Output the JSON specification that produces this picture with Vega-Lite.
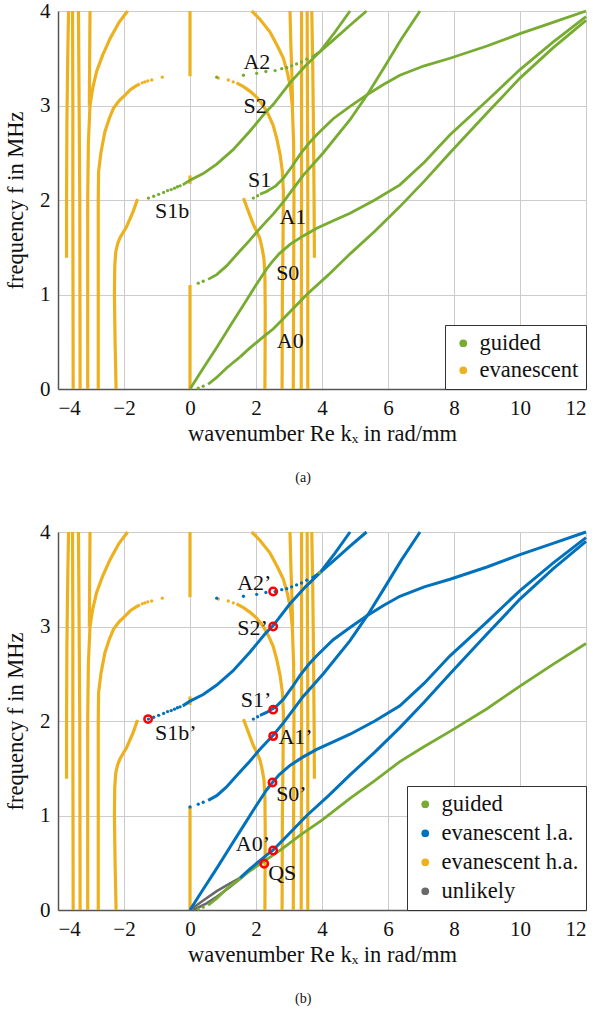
{
  "$schema": "https://vega.github.io/schema/vega-lite/v6.json",
  "background": "white",
  "padding": {"left": 4, "top": 0, "right": 0, "bottom": 0},
  "config": {
    "view": {"stroke": null},
    "font": "Liberation Serif, DejaVu Serif, serif",
    "style": {"guide-label": {"font": "Liberation Serif, DejaVu Serif, serif"}, "guide-title": {"font": "Liberation Serif, DejaVu Serif, serif"}},
    "axis": {"labelFont": "Liberation Serif, DejaVu Serif, serif", "labelFontSize": 21, "titleFont": "Liberation Serif, DejaVu Serif, serif", "titleFontSize": 22.5, "titleFontWeight": "normal", "labelColor": "#111", "titleColor": "#111", "gridColor": "#cccccc", "gridWidth": 1, "domainColor": "#555", "domainWidth": 1.5, "ticks": false, "labelPadding": 8},
    "axisY": {"titlePadding": 12},
    "legend": {"labelFont": "Liberation Serif, DejaVu Serif, serif"},
    "title": {"font": "Liberation Serif, DejaVu Serif, serif", "fontSize": 14, "fontWeight": "normal", "color": "#111"}
  },
  "datasets": {
    "orange_lines": [
      {"c":"R1","x":3.77,"y":1.39},{"c":"R1","x":3.76,"y":2.0},{"c":"R1","x":3.74,"y":2.8},{"c":"R1","x":3.72,"y":3.4},{"c":"R1","x":3.69,"y":4.0},
      {"c":"L1","x":-3.74,"y":1.39},{"c":"L1","x":-3.74,"y":2.0},{"c":"L1","x":-3.73,"y":2.8},{"c":"L1","x":-3.71,"y":3.4},{"c":"L1","x":-3.68,"y":4.0},
      {"c":"R2","x":3.57,"y":0},{"c":"R2","x":3.57,"y":2},{"c":"R2","x":3.56,"y":3},{"c":"R2","x":3.55,"y":4},
      {"c":"L2","x":-3.54,"y":0},{"c":"L2","x":-3.55,"y":2},{"c":"L2","x":-3.55,"y":3},{"c":"L2","x":-3.56,"y":4},
      {"c":"R3","x":3.37,"y":0},{"c":"R3","x":3.38,"y":2},{"c":"R3","x":3.38,"y":3},{"c":"R3","x":3.38,"y":4},
      {"c":"L3","x":-3.33,"y":0},{"c":"L3","x":-3.34,"y":2},{"c":"L3","x":-3.36,"y":3},{"c":"L3","x":-3.38,"y":4},
      {"c":"R4","x":1.87,"y":4.0},{"c":"R4","x":2.1,"y":3.92},{"c":"R4","x":2.42,"y":3.78},{"c":"R4","x":2.65,"y":3.63},{"c":"R4","x":2.83,"y":3.5},{"c":"R4","x":2.95,"y":3.35},{"c":"R4","x":3.04,"y":3.2},{"c":"R4","x":3.1,"y":3.0},{"c":"R4","x":3.14,"y":2.6},{"c":"R4","x":3.15,"y":2.0},{"c":"R4","x":3.14,"y":1.0},{"c":"R4","x":3.13,"y":0},
      {"c":"R4b","x":3.03,"y":4.0},{"c":"R4b","x":3.06,"y":3.6},{"c":"R4b","x":3.09,"y":3.3},{"c":"R4b","x":3.11,"y":3.0},
      {"c":"L4","x":-1.89,"y":4.0},{"c":"L4","x":-2.15,"y":3.88},{"c":"L4","x":-2.42,"y":3.71},{"c":"L4","x":-2.65,"y":3.53},{"c":"L4","x":-2.83,"y":3.36},{"c":"L4","x":-2.95,"y":3.18},{"c":"L4","x":-3.03,"y":3.0},{"c":"L4","x":-3.08,"y":2.6},{"c":"L4","x":-3.1,"y":2.0},{"c":"L4","x":-3.1,"y":1.0},{"c":"L4","x":-3.1,"y":0},
      {"c":"L4b","x":-3.03,"y":4.0},{"c":"L4b","x":-3.04,"y":3.5},{"c":"L4b","x":-3.05,"y":3.0},
      {"c":"R5","x":2.79,"y":0},{"c":"R5","x":2.8,"y":1.0},{"c":"R5","x":2.82,"y":1.6},{"c":"R5","x":2.83,"y":2.09},{"c":"R5","x":2.8,"y":2.3},{"c":"R5","x":2.73,"y":2.48},{"c":"R5","x":2.63,"y":2.65},{"c":"R5","x":2.52,"y":2.79},{"c":"R5","x":2.38,"y":2.9},{"c":"R5","x":2.22,"y":3.0},{"c":"R5","x":2.02,"y":3.09},{"c":"R5","x":1.82,"y":3.15},{"c":"R5","x":1.62,"y":3.2},{"c":"R5","x":1.41,"y":3.24},
      {"c":"L5","x":-2.78,"y":0},{"c":"L5","x":-2.78,"y":1.0},{"c":"L5","x":-2.78,"y":2.0},{"c":"L5","x":-2.77,"y":2.3},{"c":"L5","x":-2.7,"y":2.5},{"c":"L5","x":-2.58,"y":2.72},{"c":"L5","x":-2.45,"y":2.86},{"c":"L5","x":-2.32,"y":2.97},{"c":"L5","x":-2.15,"y":3.05},{"c":"L5","x":-1.97,"y":3.11},{"c":"L5","x":-1.8,"y":3.17},{"c":"L5","x":-1.62,"y":3.21},{"c":"L5","x":-1.52,"y":3.23},
      {"c":"R6","x":2.27,"y":0},{"c":"R6","x":2.28,"y":0.8},{"c":"R6","x":2.27,"y":1.2},{"c":"R6","x":2.24,"y":1.38},{"c":"R6","x":2.19,"y":1.48},{"c":"R6","x":2.12,"y":1.59},{"c":"R6","x":2.02,"y":1.67},{"c":"R6","x":1.92,"y":1.74},{"c":"R6","x":1.77,"y":1.88},{"c":"R6","x":1.62,"y":2.02},
      {"c":"L6","x":-2.24,"y":0},{"c":"L6","x":-2.27,"y":0.5},{"c":"L6","x":-2.29,"y":1.0},{"c":"L6","x":-2.28,"y":1.3},{"c":"L6","x":-2.25,"y":1.45},{"c":"L6","x":-2.19,"y":1.54},{"c":"L6","x":-2.12,"y":1.6},{"c":"L6","x":-1.92,"y":1.72},{"c":"L6","x":-1.72,"y":1.88},{"c":"L6","x":-1.59,"y":2.01},
      {"c":"C1","x":0,"y":0},{"c":"C1","x":0,"y":1.1},
      {"c":"C2","x":0,"y":2.17},{"c":"C2","x":0,"y":2.26},
      {"c":"C3","x":0,"y":3.31},{"c":"C3","x":0,"y":4.0}
    ],
    "modes_lines": [
      {"c":"S2","x":-0.22,"y":2.16},{"c":"S2","x":0,"y":2.21},{"c":"S2","x":0.4,"y":2.28},{"c":"S2","x":0.81,"y":2.38},{"c":"S2","x":1.3,"y":2.53},{"c":"S2","x":1.82,"y":2.73},{"c":"S2","x":2.27,"y":2.92},{"c":"S2","x":2.52,"y":3.01},{"c":"S2","x":3.03,"y":3.24},{"c":"S2","x":3.5,"y":3.42},{"c":"S2","x":3.94,"y":3.57},{"c":"S2","x":4.4,"y":3.78},{"c":"S2","x":4.85,"y":4.0},
      {"c":"A2","x":3.69,"y":3.51},{"c":"A2","x":3.94,"y":3.57},{"c":"A2","x":4.4,"y":3.71},{"c":"A2","x":4.85,"y":3.85},{"c":"A2","x":5.35,"y":4.0},
      {"c":"S1","x":2.12,"y":2.06},{"c":"S1","x":2.32,"y":2.09},{"c":"S1","x":2.6,"y":2.15},{"c":"S1","x":2.83,"y":2.23},{"c":"S1","x":3.1,"y":2.36},{"c":"S1","x":3.33,"y":2.48},{"c":"S1","x":3.6,"y":2.6},{"c":"S1","x":3.84,"y":2.69},{"c":"S1","x":4.34,"y":2.86},{"c":"S1","x":4.85,"y":2.99},{"c":"S1","x":5.35,"y":3.11},{"c":"S1","x":5.85,"y":3.22},{"c":"S1","x":6.36,"y":3.32},{"c":"S1","x":7.1,"y":3.42},{"c":"S1","x":7.88,"y":3.5},{"c":"S1","x":9,"y":3.63},{"c":"S1","x":10,"y":3.76},{"c":"S1","x":11,"y":3.88},{"c":"S1","x":12,"y":4.0},
      {"c":"A1","x":0.55,"y":1.16},{"c":"A1","x":0.81,"y":1.21},{"c":"A1","x":1.1,"y":1.3},{"c":"A1","x":1.41,"y":1.42},{"c":"A1","x":1.8,"y":1.57},{"c":"A1","x":2.12,"y":1.7},{"c":"A1","x":2.52,"y":1.85},{"c":"A1","x":2.83,"y":1.98},{"c":"A1","x":3.43,"y":2.26},{"c":"A1","x":4.04,"y":2.5},{"c":"A1","x":4.85,"y":2.85},{"c":"A1","x":5.4,"y":3.13},{"c":"A1","x":5.86,"y":3.39},{"c":"A1","x":6.4,"y":3.7},{"c":"A1","x":6.97,"y":4.0},
      {"c":"S0","x":0,"y":0},{"c":"S0","x":0.4,"y":0.22},{"c":"S0","x":0.81,"y":0.44},{"c":"S0","x":1.22,"y":0.67},{"c":"S0","x":1.62,"y":0.89},{"c":"S0","x":2.0,"y":1.1},{"c":"S0","x":2.32,"y":1.27},{"c":"S0","x":2.5,"y":1.35},{"c":"S0","x":2.7,"y":1.43},{"c":"S0","x":3.03,"y":1.53},{"c":"S0","x":3.43,"y":1.62},{"c":"S0","x":3.84,"y":1.7},{"c":"S0","x":4.34,"y":1.78},{"c":"S0","x":4.85,"y":1.86},{"c":"S0","x":5.6,"y":2.0},{"c":"S0","x":6.36,"y":2.16},{"c":"S0","x":7.1,"y":2.4},{"c":"S0","x":7.88,"y":2.69},{"c":"S0","x":9,"y":3.05},{"c":"S0","x":10,"y":3.38},{"c":"S0","x":11,"y":3.67},{"c":"S0","x":12,"y":3.94},
      {"c":"A0lo","x":0.55,"y":0.05},{"c":"A0lo","x":0.8,"y":0.12},{"c":"A0lo","x":1.1,"y":0.22},{"c":"A0lo","x":1.31,"y":0.28},{"c":"A0lo","x":1.52,"y":0.34},
      {"c":"A0hi","x":1.52,"y":0.34},{"c":"A0hi","x":1.8,"y":0.43},{"c":"A0hi","x":2.32,"y":0.58},{"c":"A0hi","x":2.52,"y":0.635},{"c":"A0hi","x":2.9,"y":0.77},{"c":"A0hi","x":3.54,"y":1.0},{"c":"A0hi","x":4.2,"y":1.21},{"c":"A0hi","x":4.85,"y":1.43},{"c":"A0hi","x":5.6,"y":1.67},{"c":"A0hi","x":6.36,"y":1.93},{"c":"A0hi","x":7.1,"y":2.2},{"c":"A0hi","x":7.88,"y":2.5},{"c":"A0hi","x":9,"y":2.92},{"c":"A0hi","x":10,"y":3.29},{"c":"A0hi","x":11,"y":3.61},{"c":"A0hi","x":12,"y":3.9}
    ],
    "g_lines": [
      {"c":"G","x":0.55,"y":0.05},{"c":"G","x":0.8,"y":0.12},{"c":"G","x":1.1,"y":0.22},{"c":"G","x":1.31,"y":0.28},{"c":"G","x":1.52,"y":0.33},{"c":"G","x":1.8,"y":0.41},{"c":"G","x":2.22,"y":0.51},{"c":"G","x":2.8,"y":0.65},{"c":"G","x":3.33,"y":0.79},{"c":"G","x":4.0,"y":0.95},{"c":"G","x":4.85,"y":1.18},{"c":"G","x":5.6,"y":1.37},{"c":"G","x":6.36,"y":1.57},{"c":"G","x":7.1,"y":1.73},{"c":"G","x":7.88,"y":1.89},{"c":"G","x":9,"y":2.13},{"c":"G","x":10,"y":2.37},{"c":"G","x":11,"y":2.6},{"c":"G","x":12,"y":2.82}
    ],
    "grey_lines": [
      {"c":"U","x":0,"y":0},{"c":"U","x":0.4,"y":0.1},{"c":"U","x":0.81,"y":0.2},{"c":"U","x":1.2,"y":0.28},{"c":"U","x":1.52,"y":0.34},
      {"c":"Lo","x":0.1,"y":0},{"c":"Lo","x":0.5,"y":0.07},{"c":"Lo","x":0.81,"y":0.14},{"c":"Lo","x":1.2,"y":0.24},{"c":"Lo","x":1.52,"y":0.33}
    ],
    "dots_a": [
      {"t":"evanescent","x":0.86,"y":3.29},{"t":"evanescent","x":1.16,"y":3.27},{"t":"evanescent","x":1.31,"y":3.25},
      {"t":"evanescent","x":-1.45,"y":3.24},{"t":"evanescent","x":-1.37,"y":3.25},{"t":"evanescent","x":-1.28,"y":3.26},{"t":"evanescent","x":-1.16,"y":3.27},{"t":"evanescent","x":-0.84,"y":3.3},
      {"t":"guided","x":-1.26,"y":2.02},{"t":"guided","x":-1.1,"y":2.04},{"t":"guided","x":-0.95,"y":2.06},{"t":"guided","x":-0.8,"y":2.08},{"t":"guided","x":-0.68,"y":2.1},{"t":"guided","x":-0.57,"y":2.11},{"t":"guided","x":-0.47,"y":2.125},{"t":"guided","x":-0.38,"y":2.14},{"t":"guided","x":-0.3,"y":2.15},
      {"t":"guided","x":0.81,"y":3.3},{"t":"guided","x":1.62,"y":3.32},{"t":"guided","x":2.02,"y":3.34},{"t":"guided","x":2.3,"y":3.36},{"t":"guided","x":2.58,"y":3.37},{"t":"guided","x":2.78,"y":3.39},{"t":"guided","x":2.93,"y":3.4},{"t":"guided","x":3.08,"y":3.42},{"t":"guided","x":3.23,"y":3.44},{"t":"guided","x":3.38,"y":3.46},{"t":"guided","x":3.54,"y":3.49},
      {"t":"guided","x":1.92,"y":2.02},{"t":"guided","x":2.05,"y":2.045},
      {"t":"guided","x":0.25,"y":1.12},{"t":"guided","x":0.4,"y":1.14},
      {"t":"guided","x":0.25,"y":0.01},{"t":"guided","x":0.4,"y":0.03}
    ],
    "dots_b": [
      {"t":"evanescent h.a.","x":0.86,"y":3.29},{"t":"evanescent h.a.","x":1.16,"y":3.27},{"t":"evanescent h.a.","x":1.31,"y":3.25},
      {"t":"evanescent h.a.","x":-1.45,"y":3.24},{"t":"evanescent h.a.","x":-1.37,"y":3.25},{"t":"evanescent h.a.","x":-1.28,"y":3.26},{"t":"evanescent h.a.","x":-1.16,"y":3.27},{"t":"evanescent h.a.","x":-0.84,"y":3.3},
      {"t":"evanescent l.a.","x":-1.26,"y":2.02},{"t":"evanescent l.a.","x":-1.1,"y":2.04},{"t":"evanescent l.a.","x":-0.95,"y":2.06},{"t":"evanescent l.a.","x":-0.8,"y":2.08},{"t":"evanescent l.a.","x":-0.68,"y":2.1},{"t":"evanescent l.a.","x":-0.57,"y":2.11},{"t":"evanescent l.a.","x":-0.47,"y":2.125},{"t":"evanescent l.a.","x":-0.38,"y":2.14},{"t":"evanescent l.a.","x":-0.3,"y":2.15},
      {"t":"evanescent l.a.","x":0.81,"y":3.3},{"t":"evanescent l.a.","x":1.62,"y":3.32},{"t":"evanescent l.a.","x":2.02,"y":3.34},{"t":"evanescent l.a.","x":2.3,"y":3.36},{"t":"evanescent l.a.","x":2.58,"y":3.37},{"t":"evanescent l.a.","x":2.78,"y":3.39},{"t":"evanescent l.a.","x":2.93,"y":3.4},{"t":"evanescent l.a.","x":3.08,"y":3.42},{"t":"evanescent l.a.","x":3.23,"y":3.44},{"t":"evanescent l.a.","x":3.38,"y":3.46},{"t":"evanescent l.a.","x":3.54,"y":3.49},
      {"t":"evanescent l.a.","x":1.92,"y":2.02},{"t":"evanescent l.a.","x":2.05,"y":2.045},
      {"t":"evanescent l.a.","x":0,"y":1.09},{"t":"evanescent l.a.","x":0.25,"y":1.12},{"t":"evanescent l.a.","x":0.4,"y":1.14},
      {"t":"guided","x":0.25,"y":0.01},{"t":"guided","x":0.4,"y":0.03},
      {"t":"guided","x":3.92,"y":3.57}
    ],
    "labels_a": [
      {"label":"A2","x":1.62,"y":3.39},{"label":"S2","x":1.62,"y":2.92},{"label":"S1","x":1.76,"y":2.14},{"label":"S1b","x":-1.06,"y":1.81},{"label":"A1","x":2.71,"y":1.75},{"label":"S0","x":2.61,"y":1.15},{"label":"A0","x":2.63,"y":0.43}
    ],
    "labels_b": [
      {"label":"A2’","x":1.43,"y":3.39},{"label":"S2’","x":1.43,"y":2.91},{"label":"S1’","x":1.54,"y":2.15},{"label":"S1b’","x":-1.06,"y":1.8},{"label":"A1’","x":2.68,"y":1.76},{"label":"S0’","x":2.61,"y":1.15},{"label":"A0’","x":1.39,"y":0.62},{"label":"QS","x":2.37,"y":0.32}
    ],
    "circles_b": [
      {"m":"S1b’","x":-1.27,"y":2.02},{"m":"A2’","x":2.52,"y":3.37},{"m":"S2’","x":2.52,"y":3.0},{"m":"S1’","x":2.52,"y":2.12},{"m":"A1’","x":2.52,"y":1.84},{"m":"S0’","x":2.5,"y":1.35},{"m":"A0’","x":2.52,"y":0.63},{"m":"QS","x":2.25,"y":0.49}
    ]
  },
  "vconcat": [
    {
      "width": 528, "height": 378,
      "title": {"text": "(a)", "orient": "bottom", "offset": 26, "dx": 5, "frame": "bounds", "anchor": "middle", "font": "Liberation Serif, DejaVu Serif, serif"},
      "encoding": {
        "x": {"field": "x", "type": "quantitative", "scale": {"domain": [-4, 12], "nice": false, "zero": false}, "axis": {"values": [-4,-2,0,2,4,6,8,10,12], "title": "wavenumber Re kₓ in rad/mm", "labelFont": "Liberation Serif, DejaVu Serif, serif", "titleFont": "Liberation Serif, DejaVu Serif, serif"}},
        "y": {"field": "y", "type": "quantitative", "scale": {"domain": [0, 4], "nice": false, "zero": false}, "axis": {"values": [0,1,2,3,4], "title": "frequency f in MHz", "labelFont": "Liberation Serif, DejaVu Serif, serif", "titleFont": "Liberation Serif, DejaVu Serif, serif"}}
      },
      "layer": [
        {"data": {"name": "orange_lines"}, "mark": {"type": "line", "color": "#EDB120", "strokeWidth": 3.2}, "encoding": {"detail": {"field": "c"}, "order": {"value": null}}},
        {"data": {"name": "modes_lines"}, "mark": {"type": "line", "color": "#77AC30", "strokeWidth": 2.8}, "encoding": {"detail": {"field": "c"}, "order": {"value": null}}},
        {"data": {"name": "dots_a"}, "mark": {"type": "circle", "size": 11, "opacity": 1},
         "encoding": {"color": {"field": "t", "type": "nominal", "scale": {"domain": ["guided", "evanescent"], "range": ["#77AC30", "#EDB120"]},
           "legend": {"title": null, "orient": "bottom-right", "offset": 0, "padding": 7, "rowPadding": 4, "symbolSize": 60, "symbolType": "circle", "symbolOpacity": 1, "labelFont": "Liberation Serif, DejaVu Serif, serif", "labelFontSize": 22.5, "labelColor": "#111", "labelOffset": 5, "fillColor": "white", "strokeColor": "#333"}}}},
        {"data": {"name": "labels_a"}, "mark": {"type": "text", "font": "Liberation Serif, DejaVu Serif, serif", "fontSize": 22, "align": "left", "baseline": "alphabetic", "color": "#111"}, "encoding": {"text": {"field": "label"}}}
      ]
    },
    {
      "width": 528, "height": 378,
      "title": {"text": "(b)", "orient": "bottom", "offset": 26, "dx": 5, "frame": "bounds", "anchor": "middle", "font": "Liberation Serif, DejaVu Serif, serif"},
      "encoding": {
        "x": {"field": "x", "type": "quantitative", "scale": {"domain": [-4, 12], "nice": false, "zero": false}, "axis": {"values": [-4,-2,0,2,4,6,8,10,12], "title": "wavenumber Re kₓ in rad/mm", "labelFont": "Liberation Serif, DejaVu Serif, serif", "titleFont": "Liberation Serif, DejaVu Serif, serif"}},
        "y": {"field": "y", "type": "quantitative", "scale": {"domain": [0, 4], "nice": false, "zero": false}, "axis": {"values": [0,1,2,3,4], "title": "frequency f in MHz", "labelFont": "Liberation Serif, DejaVu Serif, serif", "titleFont": "Liberation Serif, DejaVu Serif, serif"}}
      },
      "layer": [
        {"data": {"name": "orange_lines"}, "mark": {"type": "line", "color": "#EDB120", "strokeWidth": 3.2}, "encoding": {"detail": {"field": "c"}, "order": {"value": null}}},
        {"data": {"name": "grey_lines"}, "mark": {"type": "line", "color": "#6a6a6a", "strokeWidth": 2.6}, "encoding": {"detail": {"field": "c"}, "order": {"value": null}}},
        {"data": {"name": "g_lines"}, "mark": {"type": "line", "color": "#77AC30", "strokeWidth": 2.8}, "encoding": {"detail": {"field": "c"}, "order": {"value": null}}},
        {"data": {"name": "modes_lines"}, "transform": [{"filter": "datum.c != 'A0lo'"}], "mark": {"type": "line", "color": "#0072BD", "strokeWidth": 3}, "encoding": {"detail": {"field": "c"}, "order": {"value": null}}},
        {"data": {"name": "dots_b"}, "mark": {"type": "circle", "size": 11, "opacity": 1},
         "encoding": {"color": {"field": "t", "type": "nominal", "scale": {"domain": ["guided", "evanescent l.a.", "evanescent h.a.", "unlikely"], "range": ["#77AC30", "#0072BD", "#EDB120", "#6a6a6a"]},
           "legend": {"title": null, "orient": "bottom-right", "offset": 0, "padding": 7, "rowPadding": 6, "symbolSize": 60, "symbolType": "circle", "symbolOpacity": 1, "labelFont": "Liberation Serif, DejaVu Serif, serif", "labelFontSize": 22.5, "labelColor": "#111", "labelOffset": 5, "fillColor": "white", "strokeColor": "#333"}}}},
        {"data": {"name": "circles_b"}, "mark": {"type": "point", "shape": "circle", "filled": false, "size": 55, "strokeWidth": 2.5, "color": "#FF0000", "opacity": 1}},
        {"data": {"name": "labels_b"}, "mark": {"type": "text", "font": "Liberation Serif, DejaVu Serif, serif", "fontSize": 22, "align": "left", "baseline": "alphabetic", "color": "#111"}, "encoding": {"text": {"field": "label"}}}
      ]
    }
  ],
  "spacing": 143,
  "bounds": "flush",
  "resolve": {"scale": {"color": "independent"}, "legend": {"color": "independent"}}
}
